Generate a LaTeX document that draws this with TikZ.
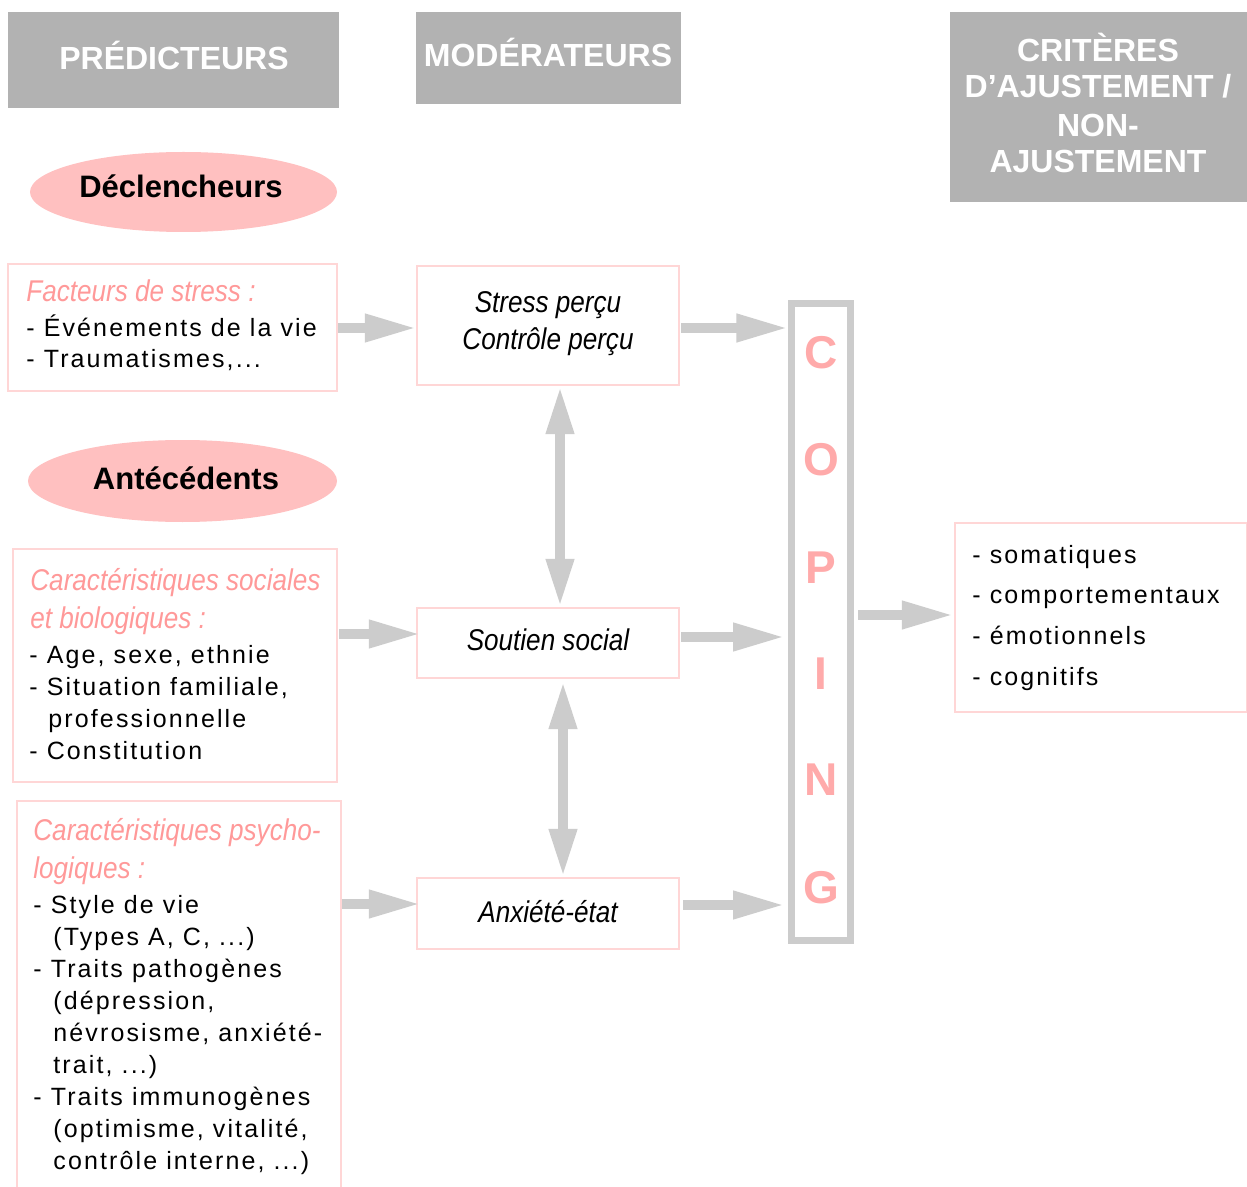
\documentclass[tikz,border=0pt]{standalone}
\usepackage{fontspec}
\setmainfont{Liberation Sans}
\newfontfamily\condit[FakeStretch=0.87]{Liberation Sans}
\newfontfamily\spaced[LetterSpace=8.5]{Liberation Sans}
\usetikzlibrary{arrows.meta,shapes.geometric,fit,calc}
\newcommand\mydots{...}
\definecolor{hdrgray}{HTML}{B2B2B2}
\definecolor{ellpink}{HTML}{FFC0C0}
\definecolor{boxpink}{HTML}{FFD6D6}
\definecolor{pinktxt}{HTML}{FF9999}
\definecolor{copink}{HTML}{FFAAAA}
\definecolor{arrowgray}{HTML}{CCCCCC}
\tikzset{
  hdrbox/.style={fill=hdrgray, draw=none, inner sep=0pt},
  hdrtxt/.style={text=white, font=\bfseries\fontsize{16}{19}\selectfont, inner sep=0pt, anchor=base},
  ell/.style={ellipse, fill=ellpink, inner sep=0pt},
  elltxt/.style={font=\bfseries\fontsize{15.5}{18}\selectfont, anchor=base, inner sep=0pt},
  pbox/.style={draw=boxpink, line width=1.2pt, inner sep=0pt},
  pinkit/.style={text=pinktxt, font=\condit\itshape\fontsize{15}{18}\selectfont, anchor=base west, inner sep=0pt},
  modtxt/.style={font=\condit\itshape\fontsize{15}{18}\selectfont, anchor=base, inner sep=0pt},
  body/.style={font=\spaced\fontsize{12.5}{15}\selectfont, anchor=base west, inner sep=0pt},
  copbox/.style={draw=arrowgray, line width=3.5pt, inner sep=0pt},
  copletter/.style={text=copink, font=\bfseries\fontsize{23}{25}\selectfont, anchor=base, inner sep=0pt},
  fat/.style={draw=arrowgray, line width=5pt, -{Triangle[length=26pt,width=13pt]}},
  dfat/.style={draw=arrowgray, line width=5pt, {Triangle[length=24pt,width=13pt]}-{Triangle[length=24pt,width=13pt]}}
}
\begin{document}
\begin{tikzpicture}[x=0.5pt,y=-0.5pt]
\useasboundingbox (0,0) rectangle (1247,1187);
\fill[white] (0,0) rectangle (1247,1187);
% headers
\node[hdrbox, fit={(8,12)(339,108)}] (hpred) {};
\node[hdrtxt] (tpred) at (174,70) {PRÉDICTEURS};
\node[hdrbox, fit={(416,12)(681,104)}] (hmod) {};
\node[hdrtxt] (tmod) at (548,67) {MODÉRATEURS};
\node[hdrbox, fit={(950,12)(1247,202)}] (hcrit) {};
\node[hdrtxt] (tc1) at (1098,62) {CRITÈRES};
\node[hdrtxt] (tc2) at (1098,98) {D’AJUSTEMENT /};
\node[hdrtxt] (tc3) at (1098,137) {NON-};
\node[hdrtxt] (tc4) at (1098,173) {AJUSTEMENT};
% ellipses
\node[ell, minimum width=153.5pt, minimum height=40pt] (decl) at (183.5,192) {};
\node[elltxt] (tdecl) at (181,198) {Déclencheurs};
\node[ell, minimum width=154.5pt, minimum height=41pt] (ante) at (182.5,481) {};
\node[elltxt] (tante) at (186,489) {Antécédents};
% left boxes
\node[pbox, fit={(8,264)(337,391)}] (fact) {};
\node[pinkit] (fp) at (26,302) {Facteurs de stress :};
\foreach \txt [count=\i] in {{- Événements de la vie},{- Traumatismes,\mydots}}
  \node[body] (fb\i) at (26,{337+(\i-1)*31}) {\txt};

\node[pbox, fit={(13,549)(337,782)}] (soc) {};
\node[pinkit] (sp1) at (30,590) {Caractéristiques sociales};
\node[pinkit] (sp2) at (30,628) {et biologiques :};
\foreach \x/\txt [count=\i] in {29/{- Age, sexe, ethnie},29/{- Situation familiale,},48/{professionnelle},29/{- Constitution}}
  \node[body] (sb\i) at (\x,{663+(\i-1)*32}) {\txt};

\node[pbox, fit={(17,801)(341,1200)}] (psy) {};
\node[pinkit] (pp1) at (33,840) {Caractéristiques psycho-};
\node[pinkit] (pp2) at (33,878) {logiques :};
\foreach \x/\txt [count=\i] in {33/{- Style de vie},53/{(Types A, C, \mydots)},33/{- Traits pathogènes},53/{(dépression,},53/{névrosisme, anxiété-},53/{trait, \mydots)},33/{- Traits immunogènes},53/{(optimisme, vitalité,},53/{contrôle interne, \mydots)}}
  \node[body] (pb\i) at (\x,{913+(\i-1)*32}) {\txt};
% middle boxes
\node[pbox, fit={(417,266)(679,385)}] (stress) {};
\node[modtxt] (st1) at (548,313) {Stress perçu};
\node[modtxt] (st2) at (548,350) {Contrôle perçu};
\node[pbox, fit={(417,608)(679,678)}] (sout) {};
\node[modtxt] (tsout) at (548,650) {Soutien social};
\node[pbox, fit={(417,878)(679,949)}] (anx) {};
\node[modtxt] (tanx) at (548,922) {Anxiété-état};
% coping
\node[copbox, fit={(791.5,303.5)(850.5,940.5)}] (coping) {};
\foreach \L/\yy [count=\i] in {C/369,O/475,P/583,I/689,N/795,G/903}
  \node[copletter] (cl\i) at (821,\yy) {\L};
% outcome box
\node[pbox, fit={(955,523)(1247,712)}] (out) {};
\foreach \txt [count=\i] in {{- somatiques},{- comportementaux},{- émotionnels},{- cognitifs}}
  \node[body] (ob\i) at (972,{563+(\i-1)*40.7}) {\txt};
% arrows
\draw[fat, shorten >=-0.5pt] (fact.east |- 0,328) -- (stress.west |- 0,328);
\draw[fat, shorten <=0.5pt, shorten >=-2.5pt] (soc.east |- 0,634) -- (sout.west |- 0,634);
\draw[fat, shorten >=-2.5pt] (psy.east |- 0,904) -- (anx.west |- 0,904);
\draw[fat, shorten <=0.5pt, shorten >=-0.2pt] (stress.east |- 0,328) -- (coping.west |- 0,328);
\draw[fat, shorten <=0.5pt, shorten >=1.5pt] (sout.east |- 0,637) -- (coping.west |- 0,637);
\draw[fat, shorten <=1.5pt, shorten >=1.5pt] (anx.east |- 0,905) -- (coping.west |- 0,905);
\draw[fat, shorten <=2pt, shorten >=0pt] (coping.east |- 0,615) -- (out.west |- 0,615);
\draw[dfat, shorten <=0pt, shorten >=0pt] (stress.south -| 560,0) -- (sout.north -| 560,0);
\draw[dfat, shorten <=1pt, shorten >=0pt] (sout.south -| 563,0) -- (anx.north -| 563,0);
\end{tikzpicture}
\end{document}
